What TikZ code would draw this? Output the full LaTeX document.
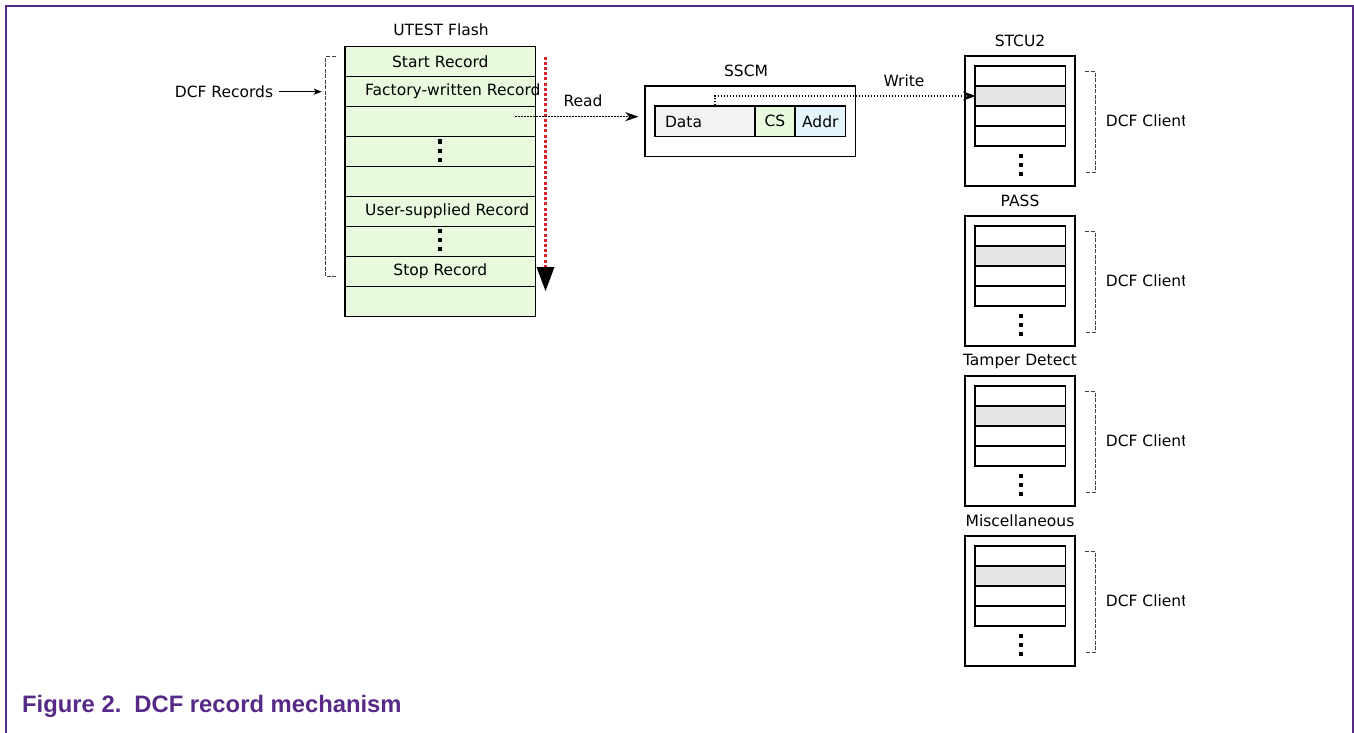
\documentclass[tikz,border=0pt]{standalone}
\usepackage{fontspec}
\setmainfont{DejaVu Sans}
\newfontfamily\capfont{Liberation Sans}
\usetikzlibrary{arrows.meta}
\definecolor{framepurple}{RGB}{88,42,136}
\definecolor{recgreen}{RGB}{233,249,222}
\definecolor{datagrey}{RGB}{242,242,242}
\definecolor{addrblue}{RGB}{228,245,252}
\definecolor{slotgrey}{RGB}{230,230,230}
\definecolor{scanred}{RGB}{214,36,42}
\tikzset{
  lbl/.style={inner sep=0pt, font=\fontsize{15.5}{18}\selectfont},
  frow/.style={draw, line width=1.2pt, fill=recgreen, minimum width=190.7pt, minimum height=30pt, inner sep=0pt},
  cell/.style={draw, line width=1.2pt, minimum height=30.7pt, inner sep=0pt, font=\fontsize{15.5}{18}\selectfont},
  outerbox/.style={draw, line width=1.2pt, fill=white, minimum width=110pt, minimum height=130pt, inner sep=0pt},
  slotbox/.style={draw, line width=1.2pt, fill=white, minimum width=90.7pt, minimum height=20pt, inner sep=0pt},
  bracketline/.style={draw=black!75, line width=0.8pt, dash pattern=on 4pt off 1.5pt},
  dotarrow/.style={line width=1.5pt, dash pattern=on 1.5pt off 1.5pt, -{Stealth[length=13pt,width=9pt,inset=4pt]}},
  threedots/.pic={\foreach \d in {-9,0,9} \fill (-2,\d-2) rectangle ++(4,4);}
}
\begin{document}
\begin{tikzpicture}[x=1pt,y=-1pt]
\useasboundingbox (0,0) rectangle (1354,733);
% frame
\draw[framepurple, line width=2pt] (6.3,733) -- (6.3,6) -- (1352.7,6) -- (1352.7,733);

% UTEST flash array
\node[lbl] (flashtitle) at (441,30) {UTEST Flash};
\foreach \i in {1,...,9} {
  \node[frow] (f\i) at (440.3,{46.7+30*(\i-0.5)}) {};
}
\node[lbl] at (f1) {Start Record};
\node[lbl, anchor=west] at (365,91.7) {Factory-written Record};
\node[lbl, anchor=west] at (365,211.7) {User-supplied Record};
\node[lbl] at (f8) {Stop Record};
\pic at (440,150.5) {threedots};
\pic at (440,240) {threedots};

% scan direction
\draw[scanred, line width=3pt, dash pattern=on 3pt off 2.2pt] (545.5,56.7) -- (545.5,270);
\fill (536.5,267) -- (554.5,267) -- (545.5,291) -- cycle;

% DCF records bracket
\node[lbl] (dcfrec) at (224,91.5) {DCF Records};
\coordinate (brk) at (325.7,91.7);
\draw[bracketline] (335.7,56.7) -- (325.7,56.7) -- (325.7,276.7) -- (335.7,276.7);
\draw[line width=0.9pt, -{Stealth[length=8pt,width=6pt,inset=2pt]}, shorten <=6pt, shorten >=4pt] (dcfrec.east |- brk) -- (brk);

% SSCM
\node[lbl] (sscmtitle) at (746,71) {SSCM};
\node[draw, line width=1.2pt, minimum width=210.7pt, minimum height=70.7pt, inner sep=0pt] (sscm) at (750.3,121.3) {};
\node[cell, fill=datagrey, minimum width=100pt] (data) at (705,121.3) {};
\node[lbl] at (683.5,121.5) {Data};
\node[cell, fill=recgreen, minimum width=40pt] (cs) at (775,121.3) {CS};
\node[cell, fill=addrblue, minimum width=50.7pt] (addr) at (820.3,121.3) {Addr};

% read path
\coordinate (rdstart) at (515,116.7);
\draw[dotarrow, shorten >=6pt] (rdstart) -- (rdstart -| sscm.west);
\node[lbl] at (583,100.7) {Read};

% DCF clients
\foreach \nm/\ttl [count=\k from 0] in {stcu/STCU2, pass/PASS, tamper/Tamper Detect, misc/Miscellaneous} {
  \pgfmathsetmacro\oy{160*\k}
  \node[lbl] (\nm-title) at (1020,{41+\oy}) {\ttl};
  \node[outerbox] (\nm) at (1020,{121+\oy}) {};
  \node[slotbox] (\nm-1) at (1020.3,{76+\oy}) {};
  \node[slotbox] (\nm-3) at (1020.3,{116+\oy}) {};
  \node[slotbox] (\nm-4) at (1020.3,{136+\oy}) {};
  \node[slotbox, fill=slotgrey] (\nm-2) at (1020.3,{96+\oy}) {};
  \pic at (1020.7,{165+\oy}) {threedots};
  \draw[bracketline] (1085,{71.7+\oy}) -- (1095,{71.7+\oy}) -- (1095,{172.3+\oy}) -- (1085,{172.3+\oy});
  \begin{scope}
    \clip (1100,{100+\oy}) rectangle (1184,{140+\oy});
    \node[lbl, anchor=west] (\nm-client) at (1105.7,{120.5+\oy}) {DCF Client};
  \end{scope}
}

% write path
\coordinate (wrx) at (715,0);
\draw[dotarrow, shorten >=-1.7pt] (data.north -| wrx) |- (stcu-2.west);
\node[lbl] at (904,80.7) {Write};

% caption
\node[anchor=base west, inner sep=0pt, text=framepurple, font=\capfont\bfseries\fontsize{23.8}{28}\selectfont] (caption) at (22,712.7) {Figure 2.\hspace{0.55em}DCF record mechanism};
\end{tikzpicture}
\end{document}
